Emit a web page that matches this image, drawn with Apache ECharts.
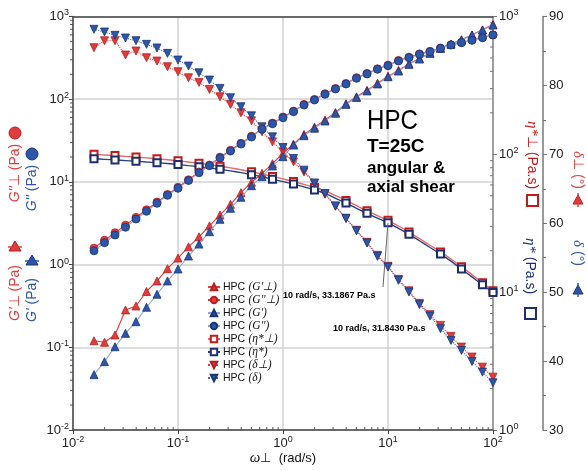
<!DOCTYPE html>
<html>
<head>
<meta charset="utf-8">
<script src="https://cdn.jsdelivr.net/npm/echarts@6/dist/echarts.min.js"></script>
<style>
  html, body { margin: 0; padding: 0; background: #fff; }
  #chart { width: 587px; height: 470px; }
</style>
</head>
<body>
<div id="chart"></div>
<script>
// Angular frequency sweep (rad/s), 10 points per decade
const omega = [0.01585, 0.01995, 0.02512, 0.03162, 0.03981, 0.05012, 0.0631, 0.07943,
  0.1, 0.1259, 0.1585, 0.1995, 0.2512, 0.3162, 0.3981, 0.5012, 0.631, 0.7943,
  1, 1.259, 1.585, 1.995, 2.512, 3.162, 3.981, 5.012, 6.31, 7.943,
  10, 12.59, 15.85, 19.95, 25.12, 31.62, 39.81, 50.12, 63.1, 79.43, 100];

// Storage modulus, perpendicular (angular) and axial (Pa)
const gStoragePerp = [0.120, 0.115, 0.141, 0.283, 0.316, 0.473, 0.634, 0.892, 1.20, 1.64,
  2.17, 2.94, 3.98, 5.36, 7.40, 9.9, 12.7, 16.6, 22.2, 28.6, 37.5, 46, 56, 69, 88, 107,
  128, 156, 190, 223, 268, 310, 362, 415, 465, 525, 600, 690, 800];
const gStorage = [0.0467, 0.067, 0.1016, 0.1476, 0.204, 0.305, 0.438, 0.634, 0.885, 1.27,
  1.77, 2.50, 3.53, 4.80, 6.52, 9.00, 11.6, 15.6, 20.2, 27.9, 36.2, 44.5, 54.5, 67.6, 86.7,
  105, 126, 153, 187, 219, 264, 306, 359, 412, 461, 520, 597, 687, 789];

// Loss modulus (Pa)
const gLossPerp = [1.58, 1.97, 2.42, 3.0, 3.72, 4.6, 5.7, 7.05, 8.6, 10.6, 13.2, 16.0, 19.9,
  24.1, 29.3, 35.6, 43.9, 51.4, 60.8, 71.8, 86.5, 99.5, 116.5, 135, 155, 182, 205, 233, 258,
  294, 322, 353, 379, 416, 456, 486, 519, 558, 600];
const gLoss = [1.47, 1.84, 2.28, 2.83, 3.56, 4.41, 5.51, 6.88, 8.37, 10.4, 12.9, 15.7, 19.5,
  23.6, 28.7, 34.9, 43.3, 50.5, 59.7, 70.6, 85.1, 97.8, 114.6, 132.9, 152.7, 179, 202, 230,
  254, 290, 318, 349, 375, 412, 452, 482, 515, 554, 597];

// Complex viscosity (Pa.s)
const etaPerp = [100, 99.0, 97.9, 96.7, 95.5, 94.2, 92.9, 91.4, 89.8, 88.0, 86.2, 84.2, 82.1,
  79.8, 77.3, 74.7, 71.9, 69.1, 66.3, 63.5, 60.5, 57.5, 54.4, 50.2, 46.3, 42.4, 38.9, 35.9,
  33.1867, 30.2, 27.3, 24.5, 21.9, 19.6, 17.4, 15.3, 13.4, 11.7, 10.25];
const eta = [92.9, 92.0, 91.1, 90.1, 89.1, 88.0, 86.9, 85.7, 84.3, 82.8, 81.3, 79.6, 77.8,
  75.8, 73.6, 71.2, 68.6, 66.0, 63.4, 60.8, 58.0, 55.1, 52.1, 48.0, 44.3, 40.6, 37.3, 34.4,
  31.843, 29.0, 26.3, 23.6, 21.1, 18.9, 16.8, 14.7, 12.9, 11.3, 9.95];
// points of the viscosity curves that carry a marker
const etaMarked = [0, 2, 4, 6, 8, 10, 12, 15, 17, 19, 21, 24, 26, 28, 30, 33, 35, 37, 38];

// Phase angle (degrees)
const deltaPerp = [85.47, 86.48, 86.48, 84.41, 84.99, 84.01, 83.53, 82.71, 81.98, 81.11, 80.44,
  79.42, 78.35, 77.24, 76.02, 74.86, 73.26, 71.81, 70.36, 68.91, 67.45, 65.77, 64.2, 62.47,
  60.73, 58.98, 57.24, 55.35, 53.75, 51.86, 50.19, 48.38, 46.74, 45.18, 43.58, 42.03, 40.58,
  39.12, 37.67];
const delta = [88.14, 87.75, 87.27, 86.88, 86.49, 85.96, 85.43, 84.65, 83.68, 82.81, 81.83,
  80.78, 79.57, 78.21, 76.90, 75.59, 73.99, 72.54, 70.99, 69.40, 67.70, 65.85, 64.31, 62.51,
  60.68, 58.9, 57.13, 55.20, 53.65, 51.72, 50.02, 48.19, 46.53, 44.70, 43.00, 41.55, 39.95,
  38.40, 36.85];

// Series names
const names = ["HPC (G'⊥)", "HPC (G''⊥)", "HPC (G')", "HPC (G'')",
  "HPC (η*⊥)", "HPC (η*)", "HPC (δ⊥)", "HPC (δ)"];

// Highlighted viscosity readings at 10 rad/s
const noteOmega = 10;
const notes = ["10 rad/s, 33.1867 Pa.s", "10 rad/s, 31.8430 Pa.s"];

// Axis ranges and minor tick mantissas
const xRange = [0.01, 100];
const gRange = [0.01, 1000];
const etaRange = [1, 1000];
const deltaRange = [30, 90];
const mantissas = [2, 3, 4, 5, 6, 7, 8, 9];

const RED = '#e23b3b', RED_EDGE = '#b51f1f';
const BLUE = '#2c56a8', BLUE_EDGE = '#18357a';
const SANS = '"Liberation Sans", Arial, sans-serif';
const SERIF = '"Liberation Serif", "Times New Roman", serif';

const pairs = arr => omega.map((w, i) => [w, arr[i]]);

function powLabel(v) {
  const e = Math.round(Math.log10(v));
  return '{b|10}{s|' + e + '}';
}
const powRich = {
  b: { fontFamily: SANS, fontSize: 13, color: '#222', lineHeight: 16 },
  s: { fontFamily: SANS, fontSize: 9, color: '#222', lineHeight: 10, verticalAlign: 'top' }
};

function lineSeries(name, arr, yIdx, symbol, color, edge, lineColor, lineType, size, rotate, z) {
  return {
    name, type: 'line', xAxisIndex: 0, yAxisIndex: yIdx,
    data: pairs(arr), symbol, symbolSize: size, symbolRotate: rotate || 0,
    showAllSymbol: true, z: z,
    itemStyle: { color: color, borderColor: edge, borderWidth: 0.8 },
    lineStyle: { color: lineColor, width: 1.1, type: lineType },
    emphasis: { disabled: true }, animation: false
  };
}

function etaSeries(name, arr, color, lineColor, z) {
  return {
    name, type: 'line', xAxisIndex: 0, yAxisIndex: 1, z: z,
    data: arr.map((v, i) => ({ value: [omega[i], v], symbol: etaMarked.includes(i) ? 'emptyRect' : 'none' })),
    symbol: 'emptyRect', symbolSize: 7, smooth: 0.3, showAllSymbol: true,
    itemStyle: { color: color, borderWidth: 1.2 },
    lineStyle: { color: lineColor, width: 1.4 },
    emphasis: { disabled: true }, animation: false
  };
}

// minor log ticks drawn through the axes' own scales
function minorTicksX(params, api) {
  const out = [];
  for (let d = -2; d < 2; d++) {
    mantissas.forEach(m => {
      const p = api.coord([m * Math.pow(10, d), gRange[0]]);
      out.push({ type: 'line', shape: { x1: p[0], y1: p[1], x2: p[0], y2: p[1] - 3 },
        style: { stroke: '#555', lineWidth: 1 } });
    });
  }
  for (let d = -2; d < 3; d++) {
    mantissas.forEach(m => {
      const p = api.coord([xRange[0], m * Math.pow(10, d)]);
      out.push({ type: 'line', shape: { x1: p[0], y1: p[1], x2: p[0] - 3, y2: p[1] },
        style: { stroke: '#555', lineWidth: 1 } });
    });
  }
  return { type: 'group', children: out };
}
function minorTicksEta(params, api) {
  const out = [];
  for (let d = 0; d < 3; d++) {
    mantissas.forEach(m => {
      const p = api.coord([xRange[1], m * Math.pow(10, d)]);
      out.push({ type: 'line', shape: { x1: p[0], y1: p[1], x2: p[0] - 3, y2: p[1] },
        style: { stroke: '#777', lineWidth: 1 } });
    });
  }
  return { type: 'group', children: out };
}

const series = [
  etaSeries(names[4], etaPerp, '#c41a1a', '#e46a6a', 2),
  etaSeries(names[5], eta, '#1b2f6e', '#27407f', 3),
  lineSeries(names[6], deltaPerp, 2, 'triangle', RED, RED_EDGE, RED, 'dotted', 8, 180, 4),
  lineSeries(names[7], delta, 2, 'triangle', BLUE, BLUE_EDGE, '#4d6aa8', 'dotted', 8, 180, 5),
  lineSeries(names[0], gStoragePerp, 0, 'triangle', RED, RED_EDGE, RED, 'solid', 8, 0, 6),
  lineSeries(names[1], gLossPerp, 0, 'circle', RED, RED_EDGE, RED, 'solid', 8, 0, 6),
  lineSeries(names[2], gStorage, 0, 'triangle', BLUE, BLUE_EDGE, '#93a6cc', 'solid', 8, 0, 7),
  lineSeries(names[3], gLoss, 0, 'circle', BLUE, BLUE_EDGE, '#93a6cc', 'solid', 8, 0, 7),
  { type: 'custom', xAxisIndex: 0, yAxisIndex: 0, data: [0], renderItem: minorTicksX, clip: false, silent: true, z: 1 },
  { type: 'custom', xAxisIndex: 0, yAxisIndex: 1, data: [0], renderItem: minorTicksEta, clip: false, silent: true, z: 1 }
];
// leader line from the 10 rad/s viscosity point towards its note
series[1].markLine = {
  silent: true, symbol: 'none', animation: false,
  lineStyle: { color: '#666', width: 1, type: 'solid' },
  label: { show: false },
  data: [[{ coord: [noteOmega, eta[omega.indexOf(noteOmega)]] }, { coord: [8.96, 10.9] }]]
};

const legendRich = {
  a: { fontFamily: SANS, fontSize: 10.5, color: '#111', lineHeight: 12 },
  b: { fontFamily: SERIF, fontSize: 11.5, fontStyle: 'italic', color: '#111', lineHeight: 12 }
};

// rotated axis titles with their symbols
function vText(x, y, rich, text, rot) {
  return { type: 'text', x: x, y: y, rotation: rot, z: 100,
    style: { text: text, rich: rich, align: 'center', verticalAlign: 'middle' } };
}
const titleRich = c => ({
  i: { fontFamily: SANS, fontSize: 14, fontStyle: 'italic', fill: c, color: c },
  r: { fontFamily: SANS, fontSize: 14, fill: c, color: c },
  g: { fontFamily: SERIF, fontSize: 15, fontStyle: 'italic', fill: c, color: c }
});

const graphic = [
  vText(15, 173, titleRich(RED), "{i|G''}{r|⊥ (Pa)}", Math.PI / 2),
  vText(32, 188, titleRich(BLUE), "{i|G''}{r| (Pa)}", Math.PI / 2),
  vText(15, 293, titleRich(RED), "{i|G'}{r|⊥ (Pa)}", Math.PI / 2),
  vText(32, 300, titleRich(BLUE), "{i|G'}{r| (Pa)}", Math.PI / 2),
  vText(532, 155, titleRich('#c41a1a'), "{g|η*}{r|⊥ (Pa.s)}", -Math.PI / 2),
  vText(530, 266, titleRich('#1b2f6e'), "{g|η*}{r| (Pa.s)}", -Math.PI / 2),
  vText(578, 170, titleRich(RED), "{g|δ}{r|⊥ (°)}", -Math.PI / 2),
  vText(578, 253, titleRich(BLUE), "{g|δ}{r| (°)}", -Math.PI / 2),
  { type: 'circle', shape: { cx: 15, cy: 133, r: 6 }, style: { fill: RED, stroke: RED_EDGE } },
  { type: 'circle', shape: { cx: 32, cy: 154, r: 6 }, style: { fill: BLUE, stroke: BLUE_EDGE } },
  { type: 'polygon', shape: { points: [[15, 241], [21, 251], [9, 251]] }, style: { fill: RED, stroke: RED_EDGE } },
  { type: 'line', shape: { x1: 8, y1: 247, x2: 22, y2: 247 }, style: { stroke: RED, lineWidth: 1.5 } },
  { type: 'polygon', shape: { points: [[32, 255], [38, 265], [26, 265]] }, style: { fill: BLUE, stroke: BLUE_EDGE } },
  { type: 'line', shape: { x1: 25, y1: 261, x2: 39, y2: 261 }, style: { stroke: BLUE, lineWidth: 1.5 } },
  { type: 'rect', shape: { x: 527, y: 195, width: 11, height: 11 }, style: { fill: '#fff', stroke: '#c41a1a', lineWidth: 2 } },
  { type: 'rect', shape: { x: 525, y: 308, width: 11, height: 11 }, style: { fill: '#fff', stroke: '#1b2f6e', lineWidth: 2 } },
  { type: 'polygon', shape: { points: [[573, 204], [583, 204], [578, 195]] }, style: { fill: RED, stroke: RED_EDGE } },
  { type: 'line', shape: { x1: 578, y1: 193, x2: 578, y2: 207 }, style: { stroke: RED, lineWidth: 1.5 } },
  { type: 'polygon', shape: { points: [[573, 294], [583, 294], [578, 285]] }, style: { fill: BLUE, stroke: BLUE_EDGE } },
  { type: 'line', shape: { x1: 578, y1: 283, x2: 578, y2: 297 }, style: { stroke: BLUE, lineWidth: 1.5 } },
  // sample description
  { type: 'text', x: 367, y: 121, scaleX: 0.86, z: 100, style: { text: 'HPC', font: '28px ' + SANS, fill: '#000', verticalAlign: 'middle' } },
  { type: 'text', x: 367, y: 147, z: 100, style: { text: 'T=25C', font: 'bold 19px ' + SANS, fill: '#000', verticalAlign: 'middle' } },
  { type: 'text', x: 367, y: 168, z: 100, style: { text: 'angular &', font: 'bold 17px ' + SANS, fill: '#000', verticalAlign: 'middle' } },
  { type: 'text', x: 367, y: 187, z: 100, style: { text: 'axial shear', font: 'bold 17px ' + SANS, fill: '#000', verticalAlign: 'middle' } },
  // readings at 10 rad/s
  { type: 'text', x: 283, y: 296, z: 100, style: { text: notes[0], font: 'bold 9px ' + SANS, fill: '#000', verticalAlign: 'middle' } },
  { type: 'text', x: 333, y: 329, z: 100, style: { text: notes[1], font: 'bold 9px ' + SANS, fill: '#000', verticalAlign: 'middle' } },
  // x axis title
  { type: 'text', x: 283, y: 458, z: 100, style: { text: '{g|ω}{r|⊥  (rad/s)}', align: 'center', verticalAlign: 'middle',
    rich: { g: { fontFamily: SERIF, fontSize: 15, fontStyle: 'italic', fill: '#111' }, r: { fontFamily: SANS, fontSize: 13, fill: '#111' } } } }
];

const chart = echarts.init(document.getElementById('chart'), null, { renderer: 'canvas' });
chart.setOption({
  animation: false,
  backgroundColor: '#fff',
  grid: { left: 73, right: 94, top: 16.5, bottom: 40, outerBoundsMode: 'none', containLabel: false },
  legend: {
    data: [names[0], names[1], names[2], names[3], names[4], names[5], names[6], names[7]],
    orient: 'vertical', left: 207, top: 281, itemWidth: 12, itemHeight: 8, itemGap: 1,
    padding: 0, selectedMode: false,
    formatter: n => '{a|HPC} {b|' + n.slice(4) + '}',
    textStyle: { rich: legendRich, lineHeight: 12, padding: [0, 0, 0, -2] }
  },
  xAxis: [
    { type: 'log', logBase: 10, min: xRange[0], max: xRange[1], position: 'bottom',
      axisLine: { show: true, lineStyle: { color: '#444', width: 1.5 } },
      axisTick: { show: true, inside: false, length: 4, lineStyle: { color: '#444' } },
      axisLabel: { formatter: powLabel, rich: powRich, margin: 5 },
      splitLine: { show: true, lineStyle: { color: '#d2d2d2', width: 1.5 } },
      minorTick: { show: false }, minorSplitLine: { show: false } },
    { type: 'log', logBase: 10, min: xRange[0], max: xRange[1], position: 'top',
      axisLine: { show: true, lineStyle: { color: '#444', width: 1.5 } },
      axisTick: { show: false }, axisLabel: { show: false }, splitLine: { show: false } }
  ],
  yAxis: [
    { type: 'log', logBase: 10, min: gRange[0], max: gRange[1], position: 'left',
      axisLine: { show: true, lineStyle: { color: '#444', width: 1.5 } },
      axisTick: { show: true, inside: false, length: 4, lineStyle: { color: '#444' } },
      axisLabel: { formatter: powLabel, rich: powRich, margin: 4 },
      splitLine: { show: true, lineStyle: { color: '#d2d2d2', width: 1.5 } } },
    { type: 'log', logBase: 10, min: etaRange[0], max: etaRange[1], position: 'right',
      axisLine: { show: true, onZero: false, lineStyle: { color: '#8a8a8a', width: 1.5 } },
      axisTick: { show: true, inside: false, length: 4, lineStyle: { color: '#777' } },
      axisLabel: { formatter: powLabel, rich: powRich, margin: 6 },
      splitLine: { show: false } },
    { type: 'value', min: deltaRange[0], max: deltaRange[1], interval: 10, position: 'right', offset: 50,
      axisLine: { show: true, lineStyle: { color: '#777', width: 1.5 } },
      axisTick: { show: true, inside: false, length: 4, lineStyle: { color: '#777' } },
      minorTick: { show: true, splitNumber: 2, length: 3, lineStyle: { color: '#777' } },
      axisLabel: { fontFamily: SANS, fontSize: 13, color: '#222', margin: 6 },
      splitLine: { show: false } }
  ],
  series: series,
  graphic: graphic
});
</script>
</body>
</html>
